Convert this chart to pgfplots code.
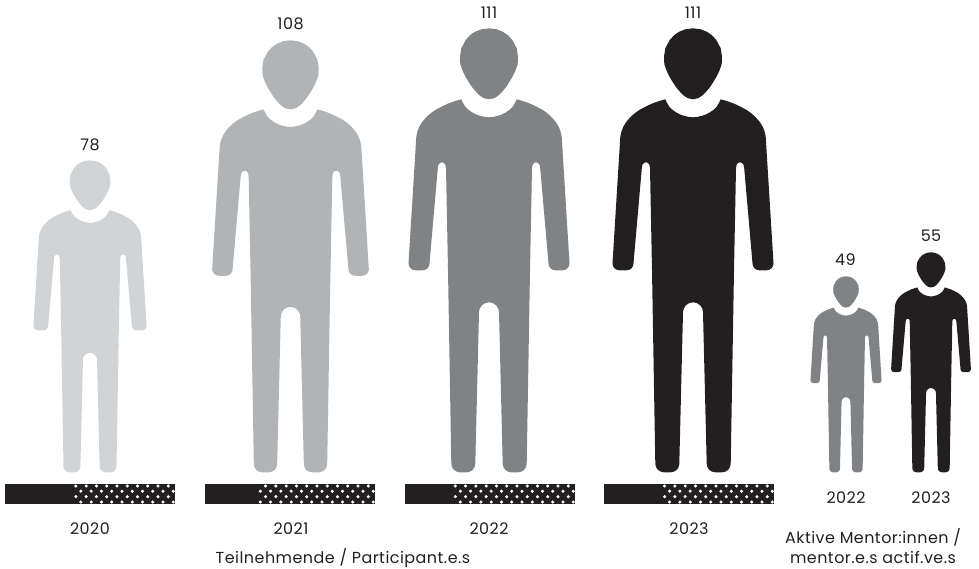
\documentclass[border=0pt]{standalone}
\usepackage{pgfplots}
\pgfplotsset{compat=1.18}
\usepackage{pgfplotstable}
\usepackage{fontspec}
\setmainfont{Poppins}[LetterSpace=3]
\definecolor{c20}{HTML}{D1D3D4}
\definecolor{c21}{HTML}{B1B3B6}
\definecolor{c22}{HTML}{808285}
\definecolor{c23}{HTML}{231F20}
\pgfplotstableread{
u v
0 444
7.7 443
13.7 440.6
18.7 437.3
23.3 432.3
27.7 424
29 415.6
28.7 408.3
27.8 405.6
26 400.6
23.5 395.6
20.5 390.6
17.3 385.6
14 381.6
10 377.3
5.5 374.2
0 373
-5.5 374.2
-10 377.3
-14 381.6
-17.3 385.6
-20.5 390.6
-23.5 395.6
-26 400.6
-27.8 405.6
-28.7 408.3
-29 415.6
-27.7 424
-23.3 432.3
-18.7 437.3
-13.7 440.6
-7.7 443
}\headtab
\pgfplotstableread{
u v
-27.7 373
-25.9 369.2
-23.7 365.6
-20.6 362.6
-17 360
-13 357.9
-8.7 356.4
-4.4 355.4
0 355
4.4 355.4
8.7 356.4
13 357.9
17 360
20.6 362.6
23.7 365.6
25.9 369.2
27.7 373
34 371.2
40.3 369
47 365.9
53.7 362.3
59 358.5
63.7 354
67 350
69.7 345.6
71.5 341
72.7 335.6
80.5 209
80 206.3
78.5 204
76.2 202.5
73.5 202
66.5 202
63.8 202.5
61.5 204
60 206.3
59.5 209
51.2 304
50.6 307.5
49 309.3
47 310
45 309.3
43.6 307.5
43 304
41 202
37.7 8.5
37 5.2
35.2 2.5
32.4 0.7
29.2 0
22.2 0
19 0.7
16.2 2.5
14.4 5.2
13.7 8.5
10 160
9.24 163.8
7.07 167.07
3.83 169.24
0 170
-3.83 169.24
-7.07 167.07
-9.24 163.8
-10 160
-13.7 8.5
-14.4 5.2
-16.2 2.5
-19 0.7
-22.2 0
-29.2 0
-32.4 0.7
-35.2 2.5
-37 5.2
-37.7 8.5
-41 202
-43 304
-43.6 307.5
-45 309.3
-47 310
-49 309.3
-50.6 307.5
-51.2 304
-59.5 209
-60 206.3
-61.5 204
-63.8 202.5
-66.5 202
-73.5 202
-76.2 202.5
-78.5 204
-80 206.3
-80.5 209
-72.7 335.6
-71.5 341
-69.7 345.6
-67 350
-63.7 354
-59 358.5
-53.7 362.3
-47 365.9
-40.3 369
-34 371.2
-27.7 373
}\bodytab
\pgfplotstableread{
d y
6.7 486
16.97 486
27.24 486
37.51 486
47.78 486
58.05 486
68.32 486
78.59 486
88.86 486
99.13 486
109.4 486
119.67 486
1.7 491.2
11.97 491.2
22.24 491.2
32.51 491.2
42.78 491.2
53.05 491.2
63.32 491.2
73.59 491.2
83.86 491.2
94.13 491.2
104.4 491.2
114.67 491.2
6.7 496.7
16.97 496.7
27.24 496.7
37.51 496.7
47.78 496.7
58.05 496.7
68.32 496.7
78.59 496.7
88.86 496.7
99.13 496.7
109.4 496.7
119.67 496.7
1.7 502
11.97 502
22.24 502
32.51 502
42.78 502
53.05 502
63.32 502
73.59 502
83.86 502
94.13 502
104.4 502
114.67 502
}\dottab
% value, centre x, colour
\newcommand{\person}[3]{%
  \addplot[fill=#3,draw=none] table[x expr={#2+#1/111*\thisrow{u}},y expr={472.3-#1/111*\thisrow{v}}] {\bodytab};
  \addplot[fill=#3,draw=none] table[x expr={#2+#1/111*\thisrow{u}},y expr={472.3-#1/111*\thisrow{v}}] {\headtab};
}
% left end, right end, first dotted x
\newcommand{\strip}[3]{%
  \addplot[fill=c23,draw=none] coordinates {(#1,484) (#2,484) (#2,504) (#1,504)};
  \addplot[only marks,mark=*,mark size=1.35bp,color=white,restrict x to domain=#3:#2] table[x expr={#2-\thisrow{d}},y=y] {\dottab};
}
\tikzset{lab/.style={font=\fontsize{16}{18}\selectfont,text=c23,inner sep=0pt,anchor=center},
  bas/.style={lab,anchor=base}}
\begin{document}
\begin{tikzpicture}
\useasboundingbox (0,0) rectangle (979bp,569bp);
\begin{axis}[
  at={(0,0)},anchor=south west,
  scale only axis,width=979bp,height=569bp,
  xmin=0,xmax=979,ymin=0,ymax=569,y dir=reverse,
  hide axis,clip=false,
]
\person{78}{90}{c20}
\person{108}{290.5}{c21}
\person{111}{489}{c22}
\person{111}{693}{c23}
\person{49}{846}{c22}
\person{55}{931}{c23}
\strip{5}{175}{75}
\strip{205}{375}{259}
\strip{405}{575}{453.5}
\strip{604}{774}{662}
\node[lab] at (axis cs:90,145) {78};
\node[lab] at (axis cs:290.5,24) {108};
\node[lab] at (axis cs:489,13) {111};
\node[lab] at (axis cs:693,13) {111};
\node[lab] at (axis cs:845.5,260) {49};
\node[lab] at (axis cs:931,236) {55};
\node[bas] at (axis cs:90,534) {2020};
\node[bas] at (axis cs:291,534) {2021};
\node[bas] at (axis cs:489,534) {2022};
\node[bas] at (axis cs:689,534) {2023};
\node[bas] at (axis cs:846,503.5) {2022};
\node[bas] at (axis cs:931,503.5) {2023};
\node[bas] at (axis cs:343,563.5) {Teilnehmende / Participant.e.s};
\node[bas] at (axis cs:873,543) {Aktive Mentor:innen /};
\node[bas] at (axis cs:873,563.5) {mentor.e.s actif.ve.s};
\end{axis}
\end{tikzpicture}
\end{document}
